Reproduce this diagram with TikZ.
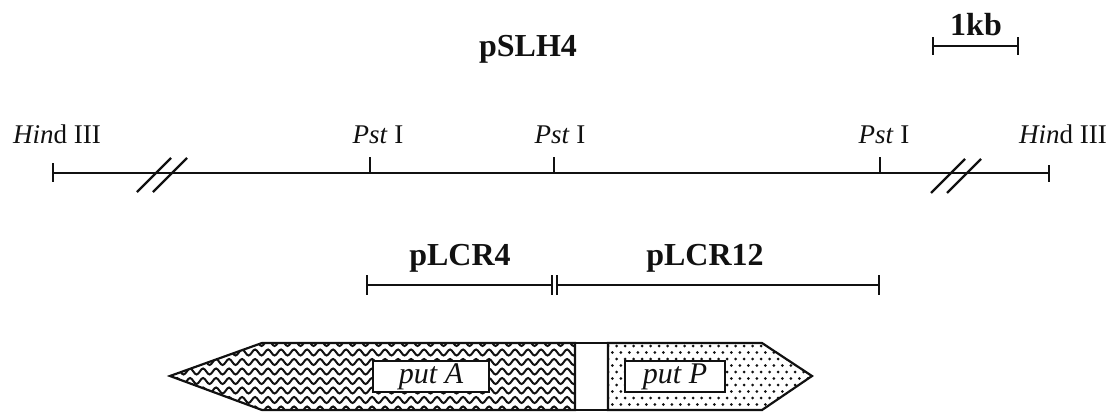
\documentclass[tikz,border=0pt]{standalone}
\usepackage{fontspec}
\setmainfont{Liberation Serif}
\usetikzlibrary{decorations.pathmorphing,positioning}
\definecolor{MapInk}{HTML}{111111}
\tikzset{
  every node/.style={text=MapInk},
  sitelabel/.style={font=\fontsize{13.5}{15}\selectfont, anchor=base, inner sep=0pt},
  clonelabel/.style={font=\fontsize{16}{18}\selectfont\bfseries, anchor=base, inner sep=0pt},
  dnaline/.style={draw=MapInk, line width=1pt},
  sitetick/.style={draw=MapInk, line width=0.9pt},
  breakmark/.style={draw=MapInk, line width=1.1pt},
  geneedge/.style={draw=MapInk, line width=1.1pt, line join=miter},
  genebox/.style={draw=MapInk, line width=0.9pt, fill=white, inner sep=0pt,
    minimum height=15.5pt, font=\fontsize{15}{17}\selectfont\itshape},
  wave/.style={draw=MapInk, line width=1pt, decorate,
    decoration={snake, segment length=6.5pt, amplitude=1.5pt}},
}

\begin{document}
\begin{tikzpicture}[x=0.5pt,y=-0.5pt]
  \useasboundingbox (0,0) rectangle (1118,412);

  % Title and scale bar
  \node[clonelabel] (pslh) at (528,56) {pSLH4};
  \coordinate (kbL) at (933,46);
  \coordinate (kbR) at (1018,46);
  \draw[sitetick] (kbL) -- (kbR);
  \draw[sitetick] (kbL) ++(0,-9) -- ++(0,18);
  \draw[sitetick] (kbR) ++(0,-9) -- ++(0,18);
  \node[clonelabel] (kb) at (976,35) {1kb};

  % Restriction map
  \coordinate (hindL) at (53,173);
  \coordinate (hindR) at (1049,173);
  \coordinate (pstA) at (370,173);
  \coordinate (pstB) at (554,173);
  \coordinate (pstC) at (880,173);
  \draw[dnaline] (hindL) -- (hindR);
  \draw[sitetick] (hindL) ++(0,-10) -- ++(0,19);
  \draw[sitetick] (hindR) ++(0,-8) -- ++(0,17);
  \foreach \s in {pstA,pstB,pstC}
    \draw[sitetick] (\s) -- ++(0,-16);

  % Breaks in the line
  \coordinate (brkL) at (162,175);
  \coordinate (brkR) at (956,176);
  \foreach \b in {brkL,brkR}{
    \draw[breakmark] (\b) ++(-25,17) -- ++(34,-34);
    \draw[breakmark] (\b) ++(-9,17) -- ++(34,-34);
  }

  % Site names
  \node[sitelabel] (hindLlab) at (57,143) {\textit{Hin}d III};
  \node[sitelabel] (pstAlab) at (378,143) {\textit{Pst} I};
  \node[sitelabel] (pstBlab) at (560,143) {\textit{Pst} I};
  \node[sitelabel] (pstClab) at (884,143) {\textit{Pst} I};
  \node[sitelabel] (hindRlab) at (1063,143) {\textit{Hin}d III};

  % Subclones
  \coordinate (lcrA) at (367,285);
  \coordinate (lcrB) at (552,285);
  \coordinate (lcrC) at (557,285);
  \coordinate (lcrD) at (879,285);
  \draw[sitetick] (lcrA) -- (lcrB);
  \draw[sitetick] (lcrC) -- (lcrD);
  \foreach \c in {lcrA,lcrB,lcrC,lcrD}
    \draw[sitetick] (\c) ++(0,-10) -- ++(0,20);
  \node[clonelabel] (lcr4) at (460,265) {pLCR4};
  \node[clonelabel] (lcr12) at (705,265) {pLCR12};

  % Genes
  \begin{scope}
    \clip (170,376) -- (262,343) -- (575,343) -- (575,410) -- (262,410) -- cycle;
    \foreach \yy in {343,352.5,...,416}
      \draw[wave] (160,\yy) -- (590,\yy);
  \end{scope}
  \begin{scope}
    \clip (608,343) -- (762,343) -- (812,376) -- (762,410) -- (608,410) -- cycle;
    \foreach \row in {0,...,10}
      \foreach \col in {0,...,25}{
        \pgfmathsetmacro{\dx}{608+\col*8.5+mod(\row,2)*4.25}
        \pgfmathsetmacro{\dy}{346+\row*6.5}
        \fill[MapInk] (\dx,\dy) circle (0.75pt);
      }
  \end{scope}
  \draw[geneedge] (170,376) -- (262,343) -- (575,343) -- (575,410) -- (262,410) -- cycle;
  \draw[geneedge] (608,343) -- (762,343) -- (812,376) -- (762,410) -- (608,410) -- cycle;
  \draw[geneedge] (575,343) -- (608,343);
  \draw[geneedge] (575,410) -- (608,410);
  \node[genebox, minimum width=58pt] (putA) at (431,376.5) {put A};
  \node[genebox, minimum width=50pt] (putP) at (675,376.5) {put P};
\end{tikzpicture}
\end{document}
